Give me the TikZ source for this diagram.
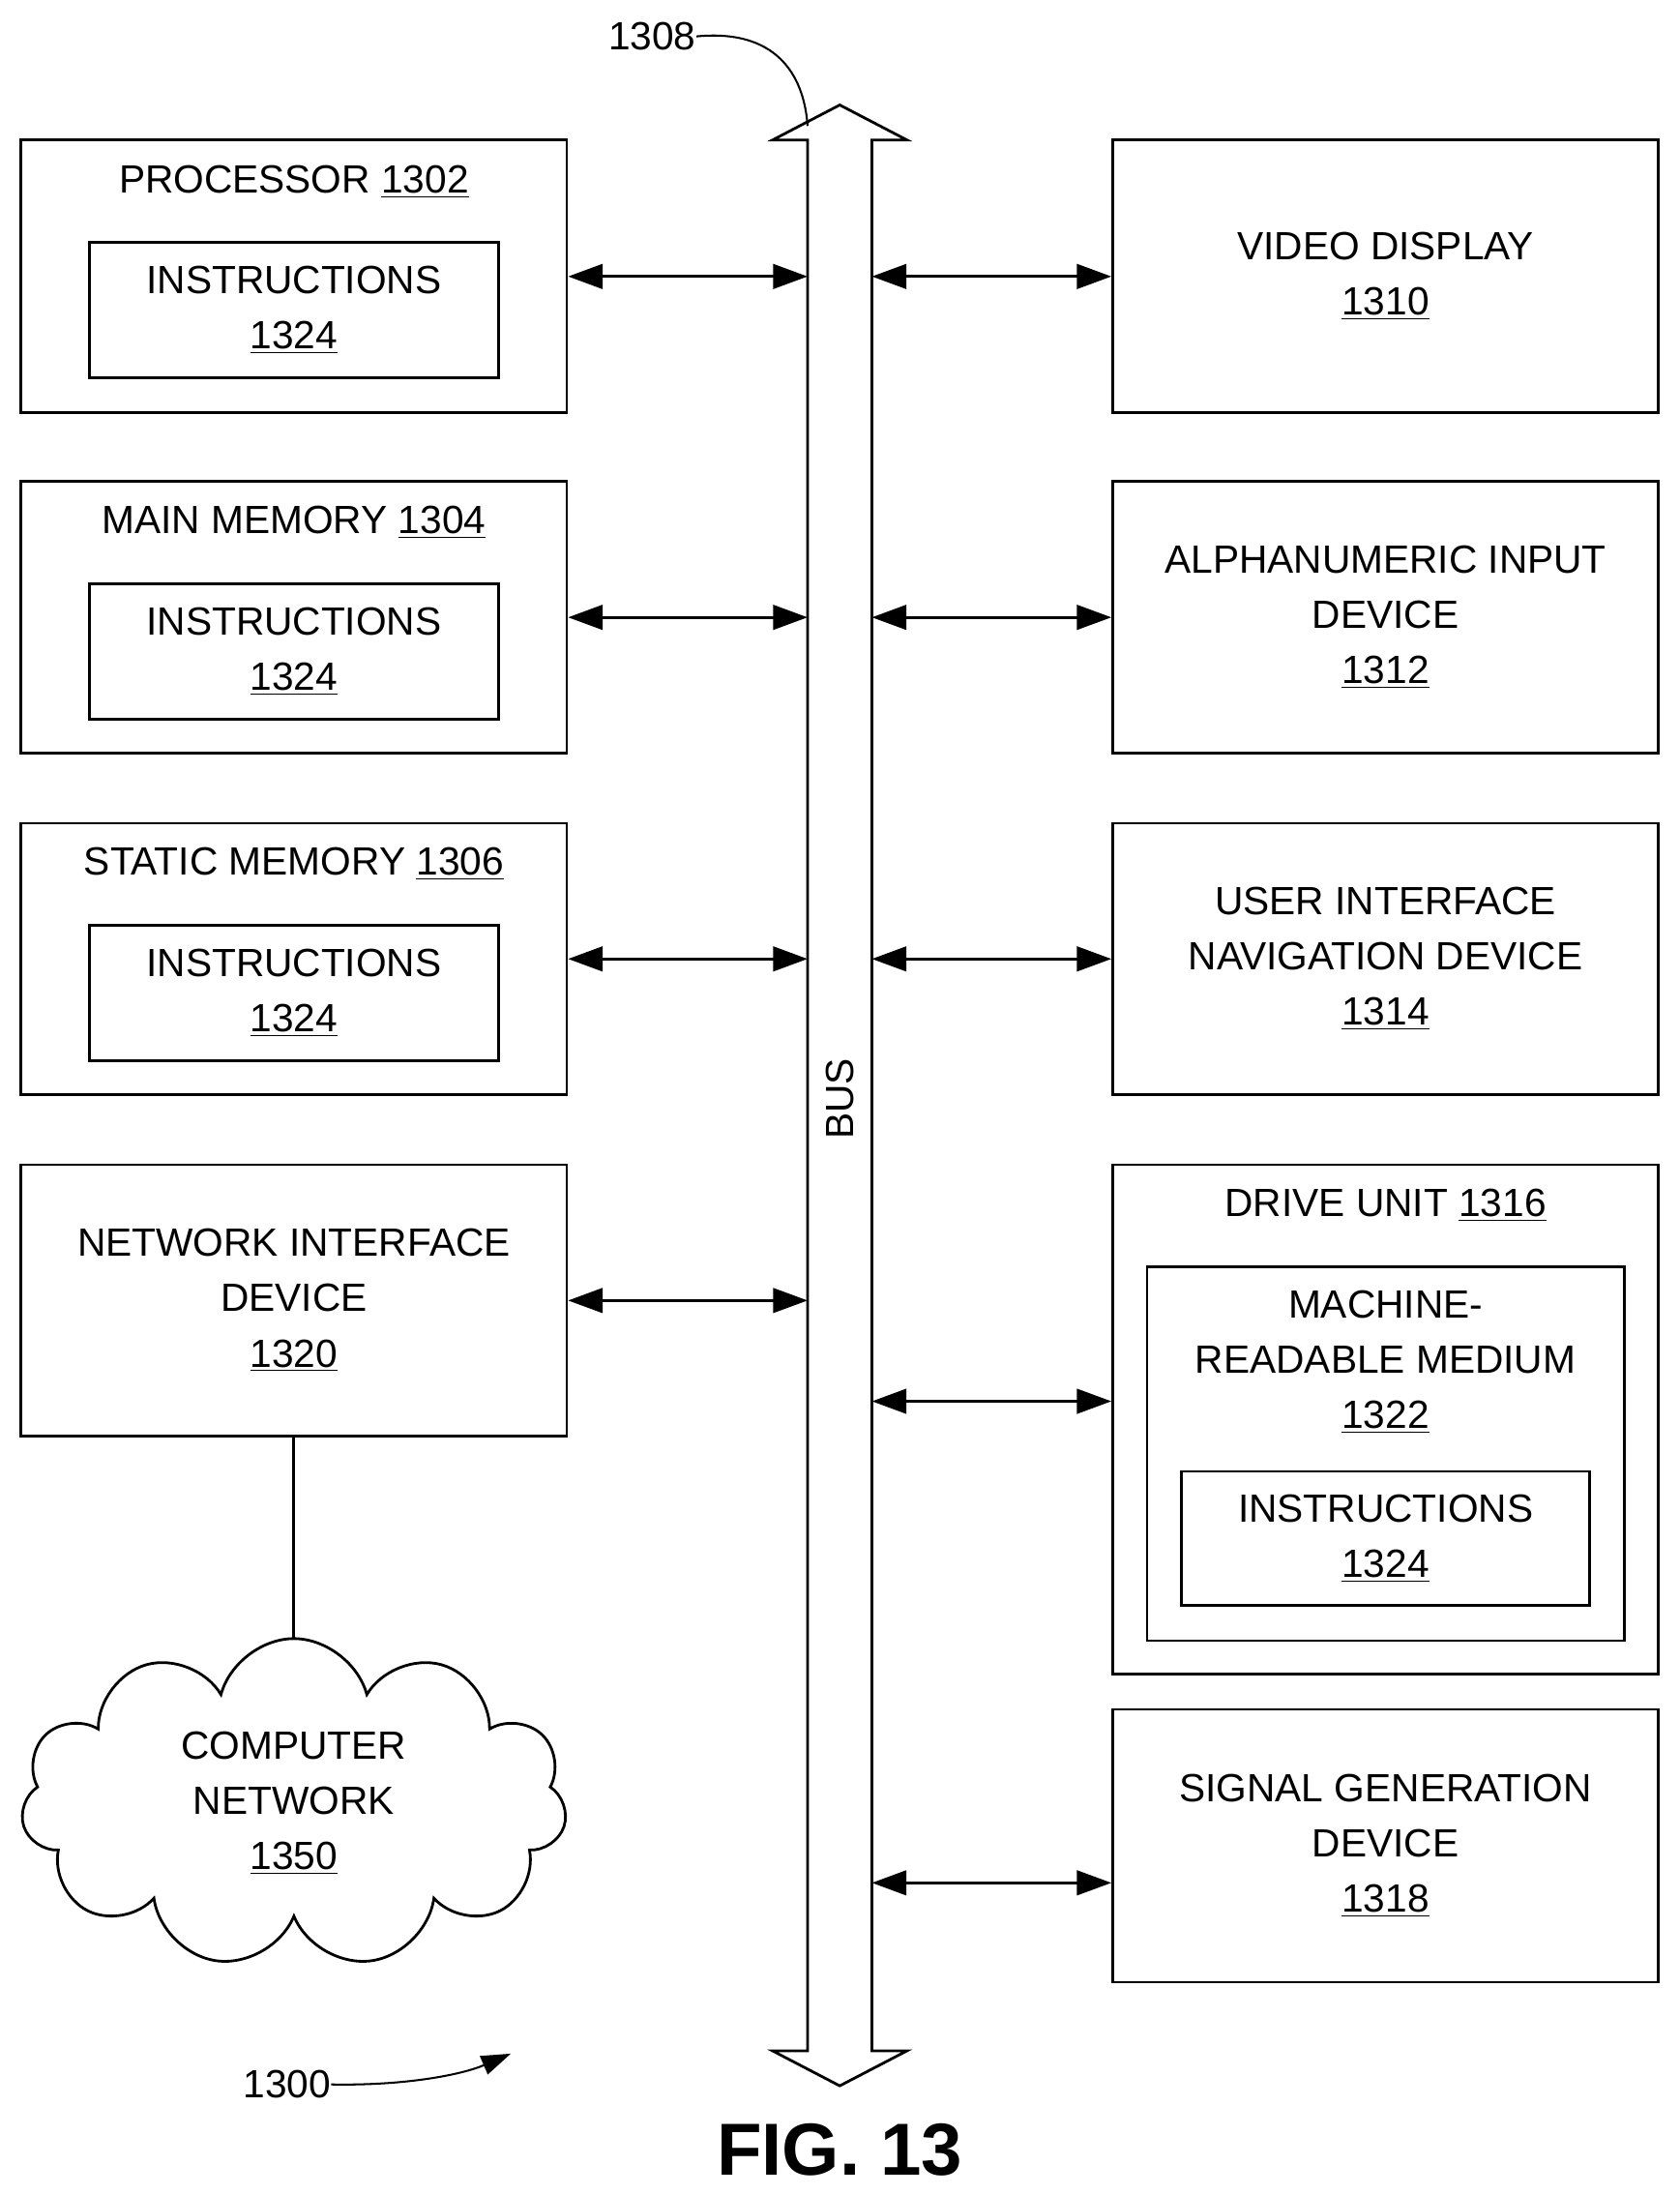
\documentclass[tikz,border=0pt]{standalone}
\usepackage{fontspec}
\setmainfont{Liberation Sans}
\usetikzlibrary{arrows.meta,shapes.symbols}
\begin{document}
\begin{tikzpicture}[x=0.02cm, y=-0.02cm,
    font=\fontsize{16}{22.5}\selectfont,
    box/.style={draw, line width=1.1pt, inner sep=0pt},
    txt/.style={align=center, inner sep=0pt},
    link/.style={line width=1.1pt, {Triangle[length=14pt,width=10pt]}-{Triangle[length=14pt,width=10pt]}}]
    \useasboundingbox (0,0) rectangle (1200,1568);

    % --- bus ---
    \draw[line width=1.1pt] (577,100) -- (552,100) -- (600,75) -- (648,100) -- (623,100)
        -- (623,1465) -- (648,1465) -- (600,1490) -- (552,1465) -- (577,1465) -- cycle;
    \node[txt, rotate=90] (bus) at (600,785) {BUS};
    \coordinate (busL) at (577,0);
    \coordinate (busR) at (623,0);

    % --- left column ---
    \node[box, minimum width=7.8cm, minimum height=3.9cm] (proc) at (210,197.5) {};
    \node[txt] at (210,130) {PROCESSOR \underline{1302}};
    \node[box, minimum width=5.84cm, minimum height=1.94cm, txt] (instA) at (210,221.5) {INSTRUCTIONS\\\underline{1324}};

    \node[box, minimum width=7.8cm, minimum height=3.88cm] (mem) at (210,441) {};
    \node[txt] at (210,373) {MAIN MEMORY \underline{1304}};
    \node[box, minimum width=5.84cm, minimum height=1.94cm, txt] (instB) at (210,465.5) {INSTRUCTIONS\\\underline{1324}};

    \node[box, minimum width=7.8cm, minimum height=3.88cm] (stat) at (210,685) {};
    \node[txt] at (210,617) {STATIC MEMORY \underline{1306}};
    \node[box, minimum width=5.84cm, minimum height=1.94cm, txt] (instC) at (210,709.5) {INSTRUCTIONS\\\underline{1324}};

    \node[box, minimum width=7.8cm, minimum height=3.88cm, txt] (net) at (210,929)
        {NETWORK INTERFACE\\DEVICE\\\underline{1320}};

    \node[cloud, draw, line width=1.1pt, cloud puffs=11, aspect=1.6, minimum width=7.8cm,
        minimum height=4.7cm, txt] (cloud) at (210,1288) {COMPUTER\\NETWORK\\\underline{1350}};
    \draw[line width=1.1pt] (net.south) -- (210,1170);

    % --- right column ---
    \node[box, minimum width=7.8cm, minimum height=3.9cm, txt] (video) at (990,197.5)
        {VIDEO DISPLAY\\\underline{1310}};
    \node[box, minimum width=7.8cm, minimum height=3.88cm, txt] (alpha) at (990,441)
        {ALPHANUMERIC INPUT\\DEVICE\\\underline{1312}};
    \node[box, minimum width=7.8cm, minimum height=3.88cm, txt] (nav) at (990,685)
        {USER INTERFACE\\NAVIGATION DEVICE\\\underline{1314}};

    \node[box, minimum width=7.8cm, minimum height=7.28cm] (drive) at (990,1014) {};
    \node[txt] at (990,861) {DRIVE UNIT \underline{1316}};
    \node[box, minimum width=6.82cm, minimum height=5.34cm] (medium) at (990,1038.5) {};
    \node[txt] at (990,973) {MACHINE-\\READABLE MEDIUM\\\underline{1322}};
    \node[box, minimum width=5.84cm, minimum height=1.92cm, txt] (instD) at (990,1099) {INSTRUCTIONS\\\underline{1324}};

    \node[box, minimum width=7.8cm, minimum height=3.9cm, txt] (signal) at (990,1318.5)
        {SIGNAL GENERATION\\DEVICE\\\underline{1318}};

    % --- links to bus ---
    \foreach \n in {proc, mem, stat, net}
        \draw[link] (\n.east) -- (\n.east -| busL);
    \foreach \n in {video, alpha, nav}
        \draw[link] (\n.west) -- (\n.west -| busR);
    \draw[link] (drive.west |- 0,1001) -- (busR |- 0,1001);
    \draw[link] (signal.west |- 0,1345) -- (busR |- 0,1345);

    % --- reference labels ---
    \node[txt] (lbus) at (466,26) {1308};
    \draw[line width=0.8pt] (lbus.east) .. controls (560,20) and (575,60) .. (577,90);
    \node[txt] (lfig) at (205,1489) {1300};
    \draw[line width=0.8pt, -{Triangle[length=12pt,width=8pt]}] (lfig.east) .. controls (290,1490) and (330,1482) .. (365,1467);
    \node[txt, font=\bfseries\fontsize{30}{36}\selectfont] (fig) at (600,1536) {FIG. 13};
\end{tikzpicture}
\end{document}
